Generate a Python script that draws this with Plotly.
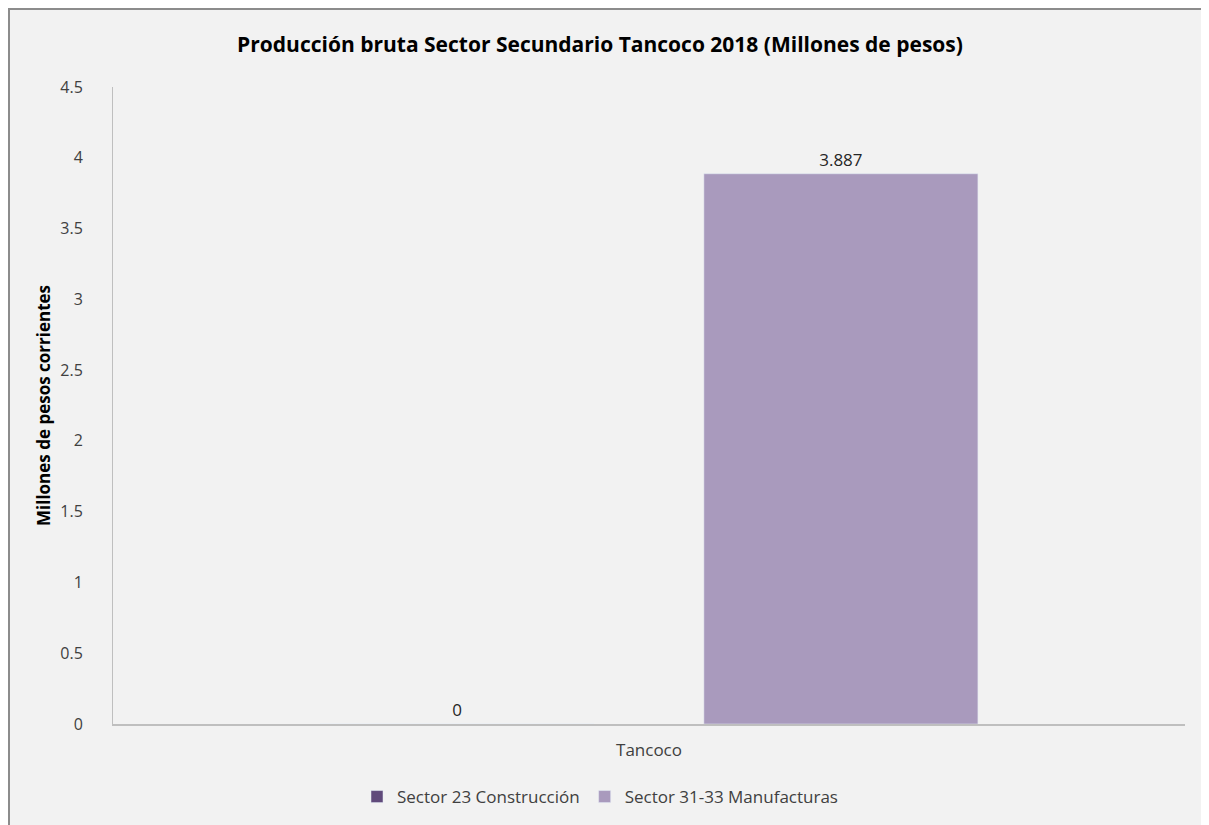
import plotly.graph_objects as go

categories = ["Tancoco"]
series_names = ["Sector 23 Construcción", "Sector 31-33 Manufacturas"]
series_values = [[0], [3.887]]
series_labels = [["0"], ["3.887"]]
series_colors = ["#604A7B", "#A99ABD"]
y_ticks = [0, 0.5, 1, 1.5, 2, 2.5, 3, 3.5, 4, 4.5]
y_tick_labels = ["0", "0.5", "1", "1.5", "2", "2.5", "3", "3.5", "4", "4.5"]

# page body adds an 8px margin; figure pixel coords = page coords - 8
W, H = 1201, 817
L, R, T, B = 105, 24, 79, 101
pw, ph = W - L - R, H - T - B
FONT = "Open Sans, DejaVu Sans"

fig = go.Figure()
for name, vals, labs, col in zip(series_names, series_values, series_labels, series_colors):
    fig.add_trace(go.Bar(
        x=categories, y=vals, name=name, marker_color=col,
        text=labs, textposition="outside", cliponaxis=False,
        textfont=dict(family=FONT, size=17, color="#262626"),
    ))

fig.update_layout(
    width=W, height=H,
    margin=dict(l=L, r=R, t=T, b=B, autoexpand=False),
    paper_bgcolor="white", plot_bgcolor="rgba(0,0,0,0)",
    barmode="group", bargap=0.284, bargroupgap=0.286,
    title=dict(text="<b>Producción bruta Sector Secundario Tancoco 2018 (Millones de pesos)</b>",
               x=592 / W, xanchor="center", y=1 - 37 / H, yanchor="middle",
               font=dict(family=FONT, size=21, color="#000000")),
    font=dict(family=FONT, size=16, color="#404040"),
    showlegend=True,
    legend=dict(orientation="h", x=(592 - L) / pw, xanchor="center",
                y=-(789 - (T + ph)) / ph, yanchor="middle",
                font=dict(family=FONT, size=17, color="#404040"),
                bgcolor="rgba(0,0,0,0)", itemwidth=30, traceorder="normal"),
    shapes=[dict(type="rect", xref="paper", yref="paper", layer="below",
                 x0=(1 - L) / pw, x1=(W - 1 - L) / pw,
                 y0=-(H + 10 - T - ph) / ph, y1=(T + ph - 1) / ph,
                 fillcolor="#F2F2F2", line=dict(color="#8C8C8C", width=2))],
)
fig.update_xaxes(showline=True, linecolor="#BFBFBF", linewidth=2, showgrid=False,
                 ticks="", ticklabelstandoff=10, tickfont=dict(size=17, color="#404040"))
fig.update_yaxes(range=[0, 4.5], tickvals=y_ticks, ticktext=y_tick_labels,
                 showline=True, linecolor="#BFBFBF", linewidth=1, showgrid=False,
                 zeroline=False, ticks="", ticklabelstandoff=26,
                 tickfont=dict(size=16, color="#404040"),
                 title=dict(text="<b>Millones de pesos corrientes</b>", standoff=5,
                            font=dict(size=17, color="#000000")))

fig.write_html("out.html")
